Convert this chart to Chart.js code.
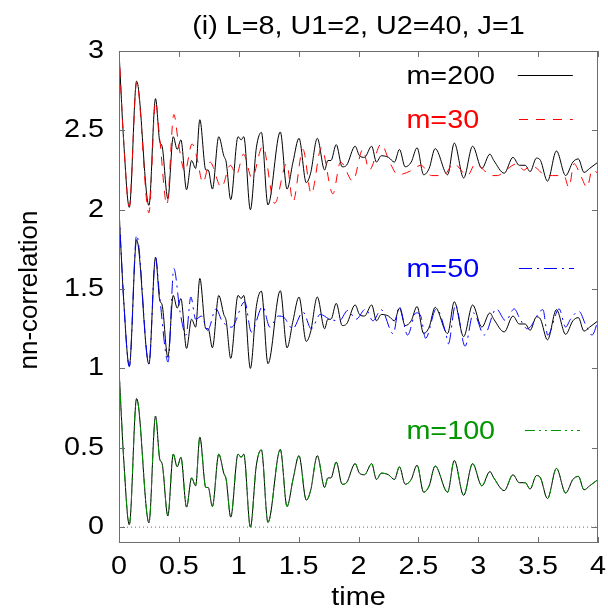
<!DOCTYPE html>
<html lang="en">

<head>
    <meta charset="UTF-8">
    <title>nn-correlation vs time</title>
    <script src="https://cdn.jsdelivr.net/npm/chart.js"></script>
    <style>
        body { margin: 0; background: #fff; }
    </style>
</head>

<body>
<canvas id="graphCanvas" width="608" height="612"></canvas>

<script>
    const titleText = '(i) L=8, U1=2, U2=40, J=1';
    const xTitle = 'time';
    const yTitle = 'nn-correlation';
    const xTicks = [0, 0.5, 1, 1.5, 2, 2.5, 3, 3.5, 4];
    const xTickLabels = ['0', '0.5', '1', '1.5', '2', '2.5', '3', '3.5', '4'];
    const yTicks = [0, 0.5, 1, 1.5, 2, 2.5, 3];
    const yTickLabels = ['0', '0.5', '1', '1.5', '2', '2.5', '3'];

    // m=200 reference curve (raw values, before the vertical shift)
    const timeM200 = [0, 0.04, 0.086, 0.147, 0.25, 0.305, 0.34, 0.36, 0.408, 0.453, 0.486, 0.517, 0.564, 0.606, 0.64, 0.675,
        0.725, 0.745, 0.78, 0.833, 0.875, 0.895, 0.933, 0.994, 1.02, 1.042, 1.097, 1.147, 1.189, 1.244, 1.347, 1.403,
        1.453, 1.503, 1.564, 1.6, 1.656, 1.717, 1.744, 1.77, 1.814, 1.864, 1.9, 1.972, 2.008, 2.05, 2.11, 2.15, 2.19,
        2.25, 2.3, 2.342, 2.39, 2.44, 2.489, 2.544, 2.59, 2.64, 2.744, 2.8, 2.878, 2.953, 3.03, 3.097, 3.13, 3.217,
        3.29, 3.342, 3.392, 3.433, 3.486, 3.52, 3.578, 3.653, 3.73, 3.79, 3.836, 3.883, 3.93, 4.0];
    const corrM200 = [1.0, 0.42, 0.015, 0.81, 0.027, 0.70, 0.43, 0.40, 0.07, 0.46, 0.38, 0.44, 0.126, 0.31, 0.26, 0.567,
        0.25, 0.25, 0.13, 0.46, 0.34, 0.30, 0.063, 0.46, 0.44, 0.46, 0.0, 0.39, 0.487, 0.03, 0.49, 0.13,
        0.30, 0.45, 0.17, 0.23, 0.45, 0.25, 0.31, 0.31, 0.41, 0.27, 0.28, 0.40, 0.34, 0.33, 0.40, 0.30, 0.34,
        0.33, 0.30, 0.38, 0.27, 0.30, 0.39, 0.22, 0.26, 0.385, 0.22, 0.42, 0.20, 0.40, 0.26, 0.35, 0.31, 0.23,
        0.33, 0.28, 0.28, 0.24, 0.325, 0.31, 0.18, 0.37, 0.215, 0.30, 0.32, 0.235, 0.26, 0.30];

    // m=30 (top group)
    const timeM30 = [0, 0.04, 0.086, 0.147, 0.25, 0.305, 0.34, 0.4, 0.458, 0.5, 0.55, 0.61, 0.65, 0.7, 0.76, 0.855,
        0.93, 0.98, 1.04, 1.11, 1.2, 1.3, 1.4, 1.453, 1.536, 1.606, 1.69, 1.786, 1.85, 1.953, 2.036, 2.09, 2.19,
        2.26, 2.33, 2.45, 2.52, 2.61, 2.71, 2.795, 2.91, 2.977, 3.046, 3.1, 3.16, 3.23, 3.325, 3.38, 3.44, 3.49,
        3.55, 3.62, 3.715, 3.757, 3.8, 3.855, 3.91, 3.95, 4.0];
    const corrM30 = [1.0, 0.42, 0.02, 0.80, -0.02, 0.68, 0.45, 0.03, 0.60, 0.40, 0.24, 0.415, 0.33, 0.17, 0.30, 0.14,
        0.28, 0.22, 0.35, 0.20, 0.40, 0.04, 0.29, 0.05, 0.38, 0.10, 0.39, 0.10, 0.30, 0.18, 0.38, 0.25, 0.415,
        0.30, 0.22, 0.25, 0.28, 0.215, 0.215, 0.29, 0.215, 0.29, 0.25, 0.215, 0.215, 0.25, 0.29, 0.25, 0.28, 0.26,
        0.22, 0.215, 0.215, 0.14, 0.29, 0.215, 0.14, 0.25, 0.23];

    // m=50 (middle group)
    const timeM50 = [0, 0.04, 0.086, 0.147, 0.25, 0.305, 0.34, 0.41, 0.458, 0.51, 0.56, 0.6, 0.64, 0.69, 0.74, 0.81,
        0.86, 0.94, 1.05, 1.105, 1.2, 1.26, 1.33, 1.38, 1.45, 1.536, 1.606, 1.68, 1.76, 1.84, 1.91, 1.98, 2.06,
        2.12, 2.19, 2.29, 2.34, 2.41, 2.48, 2.52, 2.56, 2.65, 2.73, 2.75, 2.81, 2.89, 2.96, 3.05, 3.15, 3.23,
        3.3, 3.35, 3.41, 3.54, 3.58, 3.675, 3.73, 3.77, 3.84, 3.9, 3.95, 4.0];
    const corrM50 = [1.0, 0.42, 0.01, 0.84, 0.03, 0.70, 0.45, 0.04, 0.63, 0.355, 0.21, 0.45, 0.31, 0.33, 0.24, 0.375,
        0.30, 0.26, 0.42, 0.23, 0.39, 0.26, 0.33, 0.32, 0.25, 0.355, 0.25, 0.34, 0.31, 0.30, 0.365, 0.31, 0.375,
        0.30, 0.37, 0.218, 0.39, 0.21, 0.35, 0.33, 0.19, 0.375, 0.22, 0.155, 0.40, 0.14, 0.35, 0.21, 0.375, 0.30,
        0.375, 0.31, 0.25, 0.37, 0.21, 0.375, 0.26, 0.31, 0.36, 0.27, 0.21, 0.30];

    // m=100 lies on top of m=200 in the picture
    const timeM100 = timeM200;
    const corrM100 = corrM200;

    // vertical shift of each group
    const offsetTop = 2;
    const offsetMid = 1;
    const offsetLow = 0;

    function points(times, values, shift) {
        return times.map((t, i) => ({ x: t, y: values[i] + shift }));
    }

    const FONT = '"Liberation Sans", Arial, sans-serif';
    const STRETCH = 1.15; // the original lettering is a bit wider than it is tall

    const legendRows = [
        { label: 'm=200', color: '#000000', dash: [], y: 2.85, x1: 3.33, x2: 3.79 },
        { label: 'm=30', color: '#ff0000', dash: [9, 8], y: 2.57, x1: 3.34, x2: 3.79 },
        { label: 'm=50', color: '#0000ff', dash: [13, 5, 2, 5], y: 1.63, x1: 3.34, x2: 3.8 },
        { label: 'm=100', color: '#009600', dash: [10, 4, 2, 4, 2, 4], y: 0.61, x1: 3.39, x2: 3.85 }
    ];

    function wideText(ctx, text, x, y, align) {
        ctx.save();
        ctx.translate(x, y);
        ctx.scale(STRETCH, 1);
        ctx.textAlign = align;
        ctx.textBaseline = 'middle';
        ctx.fillText(text, 0, 0);
        ctx.restore();
    }

    const framePlugin = {
        id: 'frame',
        afterDatasetsDraw(chart) {
            const { ctx, chartArea: a, scales: { x, y } } = chart;
            ctx.save();
            // frame + inward ticks on all four sides
            ctx.strokeStyle = '#6e6e6e';
            ctx.lineWidth = 1;
            ctx.setLineDash([]);
            ctx.strokeRect(Math.round(a.left) + 0.5, Math.round(a.top) + 0.5,
                Math.round(a.right - a.left) - 1, Math.round(a.bottom - a.top) - 1);
            ctx.beginPath();
            xTicks.forEach(v => {
                const px = Math.round(x.getPixelForValue(v)) + 0.5;
                ctx.moveTo(px, a.bottom); ctx.lineTo(px, a.bottom - 6);
                ctx.moveTo(px, a.top); ctx.lineTo(px, a.top + 6);
            });
            yTicks.forEach(v => {
                const py = Math.round(y.getPixelForValue(v)) + 0.5;
                ctx.moveTo(a.left, py); ctx.lineTo(a.left + 6, py);
                ctx.moveTo(a.right, py); ctx.lineTo(a.right - 6, py);
            });
            ctx.stroke();

            ctx.fillStyle = '#000';
            ctx.font = '25px ' + FONT;
            // tick labels
            xTicks.forEach((v, i) => wideText(ctx, xTickLabels[i], x.getPixelForValue(v), a.bottom + 24, 'center'));
            yTicks.forEach((v, i) => wideText(ctx, yTickLabels[i], a.left - 15, y.getPixelForValue(v), 'right'));
            // title and axis titles
            wideText(ctx, titleText, (a.left + a.right) / 2, 27, 'center');
            wideText(ctx, xTitle, (a.left + a.right) / 2, 598, 'center');
            ctx.save();
            ctx.translate(30, 290);
            ctx.rotate(-Math.PI / 2);
            ctx.font = '26px ' + FONT;
            ctx.textAlign = 'center';
            ctx.textBaseline = 'middle';
            ctx.fillText(yTitle, 0, 0);
            ctx.restore();

            // legend
            legendRows.forEach(r => {
                const py = Math.round(y.getPixelForValue(r.y)) + 0.5;
                ctx.fillStyle = r.color;
                wideText(ctx, r.label, x.getPixelForValue(2.4), py + 2, 'left');
                ctx.strokeStyle = r.color;
                ctx.setLineDash(r.dash);
                ctx.beginPath();
                ctx.moveTo(x.getPixelForValue(r.x1), py);
                ctx.lineTo(x.getPixelForValue(r.x2), py);
                ctx.stroke();
            });
            ctx.restore();
        }
    };

    function renderGraph() {
        const ctx = document.getElementById('graphCanvas').getContext('2d');
        const lineStyle = {
            borderWidth: 1,
            pointRadius: 0,
            fill: false,
            cubicInterpolationMode: 'monotone'
        };
        new Chart(ctx, {
            type: 'line',
            data: {
                datasets: [
                    { ...lineStyle, label: 'm=30', data: points(timeM30, corrM30, offsetTop), borderColor: '#ff0000', borderDash: [9, 8], order: 0 },
                    { ...lineStyle, label: 'm=50', data: points(timeM50, corrM50, offsetMid), borderColor: '#0000ff', borderDash: [13, 5, 2, 5], order: 0 },
                    { ...lineStyle, label: 'm=100', data: points(timeM100, corrM100, offsetLow), borderColor: '#009600', borderDash: [10, 4, 2, 4, 2, 4], order: 0 },
                    { ...lineStyle, label: 'm=200', data: points(timeM200, corrM200, offsetTop), borderColor: '#000000', order: 1 },
                    { ...lineStyle, label: 'm=200', data: points(timeM200, corrM200, offsetMid), borderColor: '#000000', order: 1 },
                    { ...lineStyle, label: 'm=200', data: points(timeM200, corrM200, offsetLow), borderColor: '#000000', order: 1 },
                    { ...lineStyle, label: 'zero', data: [{ x: xTicks[0], y: 0 }, { x: xTicks[xTicks.length - 1], y: 0 }],
                        borderColor: '#666666', borderDash: [1, 3], cubicInterpolationMode: 'default', order: 2 }
                ]
            },
            options: {
                responsive: false,
                animation: false,
                layout: { padding: { top: 51, right: 10, left: 0, bottom: 0 } },
                scales: {
                    x: {
                        type: 'linear',
                        min: 0,
                        max: 4,
                        afterFit: s => { s.height = 69; s.paddingLeft = 0; s.paddingRight = 0; },
                        grid: { display: false, drawTicks: false },
                        border: { display: false },
                        ticks: { display: false }
                    },
                    y: {
                        type: 'linear',
                        min: -0.1,
                        max: 3,
                        afterFit: s => { s.width = 119; s.paddingTop = 0; s.paddingBottom = 0; },
                        grid: { display: false, drawTicks: false },
                        border: { display: false },
                        ticks: { display: false }
                    }
                },
                plugins: {
                    legend: { display: false },
                    tooltip: { enabled: false }
                }
            },
            plugins: [framePlugin]
        });
    }

    renderGraph();
</script>
</body>

</html>
